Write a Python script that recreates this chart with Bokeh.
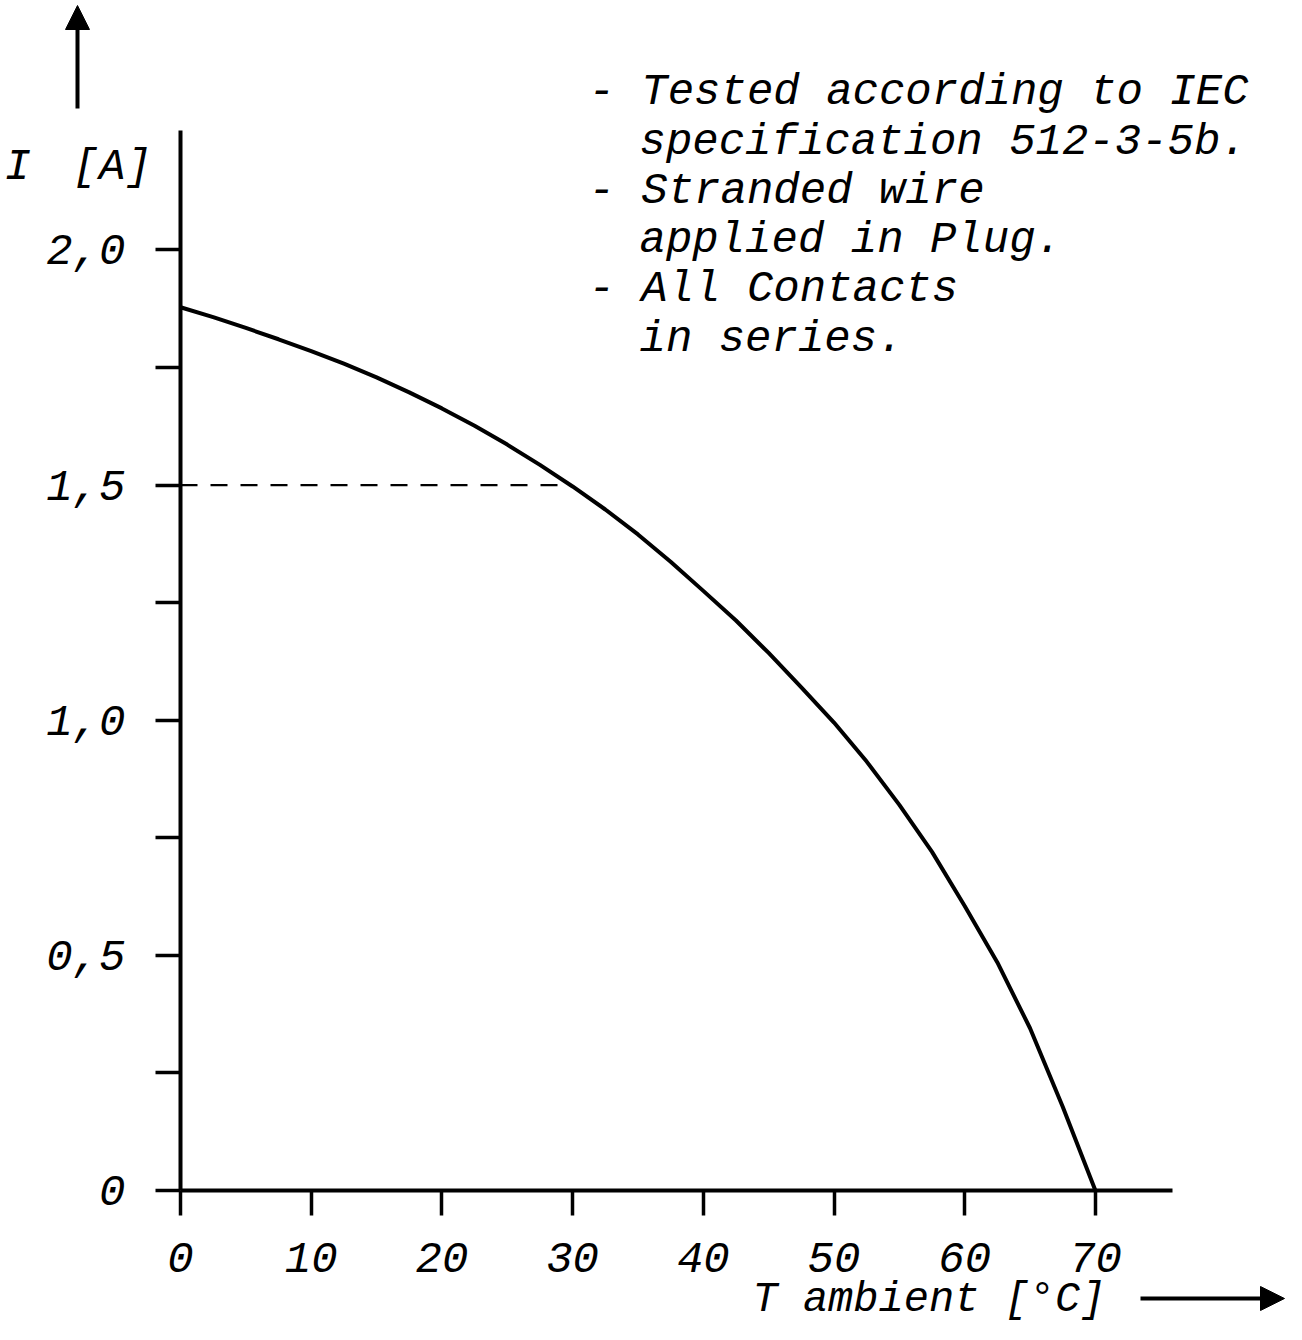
from bokeh.plotting import figure
from bokeh.models import Range1d, FixedTicker, Label, Arrow, NormalHead
from bokeh.embed import file_html
from bokeh.resources import INLINE

# ---- data ----
temperature = [0, 2.5, 5, 7.5, 10, 12.5, 15, 17.5, 20, 22.5, 25, 27.5, 30, 32.5, 35,
               37.5, 40, 42.5, 45, 47.5, 50, 52.5, 55, 57.5, 60, 62.5, 65, 67.5, 70]
current = [1.878, 1.857, 1.834, 1.810, 1.785, 1.758, 1.729, 1.697, 1.663, 1.626,
           1.586, 1.543, 1.497, 1.448, 1.395, 1.337, 1.275, 1.212, 1.143, 1.070,
           0.995, 0.912, 0.820, 0.720, 0.605, 0.485, 0.345, 0.178, 0.0]

x_ticks = [0, 10, 20, 30, 40, 50, 60, 70]
y_major = [0.0, 0.5, 1.0, 1.5, 2.0]
y_minor = [0.25, 0.75, 1.25, 1.75]
y_tick_labels = ["0", "0,5", "1,0", "1,5", "2,0"]

x_axis_end = 75.9
y_axis_end = 2.254

ref_current = 1.5
ref_temp_end = 28.9

note_first = ["- Tested according to IEC", "- Stranded wire", "- All Contacts"]
note_cont = ["specification 512-3-5b.", "applied in Plug.", "in series."]

y_title_symbol = "I"
y_title_unit = "[A]"
x_title = "T ambient [°C]"

FONT = "Liberation Mono"
FS = "44px"


# canvas-pixel -> data helpers (used for placing annotations and the frame)
def dx(px):
    return (px - 180) / 13.07


def dy(py):
    return (1190 - py) / 470.3


# ---- figure: frame covers the whole canvas, axes fixed at 0 ----
W, H = 1286, 1324
p = figure(width=W, height=H, output_backend="svg", toolbar_location=None,
           x_range=Range1d(dx(0), dx(W)), y_range=Range1d(dy(H), dy(0)),
           min_border=0)
p.outline_line_color = None
p.grid.visible = False
p.background_fill_color = "white"
p.border_fill_color = "white"

# x axis
xa = p.xaxis[0]
xa.fixed_location = 0
xa.bounds = (0, x_axis_end)
xa.ticker = FixedTicker(ticks=x_ticks, minor_ticks=[])
xa.axis_line_width = 4
xa.axis_line_color = "black"
xa.major_tick_out = 25
xa.major_tick_in = 0
xa.major_tick_line_width = 3.5
xa.major_tick_line_color = "black"
xa.minor_tick_line_color = None
xa.major_label_standoff = 27
xa.major_label_text_font = FONT
xa.major_label_text_font_style = "italic"
xa.major_label_text_font_size = FS
xa.major_label_text_color = "black"

# y axis
ya = p.yaxis[0]
ya.fixed_location = 0
ya.bounds = (0, y_axis_end)
ya.ticker = FixedTicker(ticks=y_major, minor_ticks=y_minor)
ya.axis_line_width = 4
ya.axis_line_color = "black"
ya.major_tick_out = 25
ya.major_tick_in = 0
ya.major_tick_line_width = 3.5
ya.major_tick_line_color = "black"
ya.minor_tick_out = 25
ya.minor_tick_in = 0
ya.minor_tick_line_width = 3.5
ya.minor_tick_line_color = "black"
ya.major_label_standoff = 30
ya.major_label_text_font = FONT
ya.major_label_text_font_style = "italic"
ya.major_label_text_font_size = FS
ya.major_label_text_color = "black"
ya.major_label_overrides = {float(v): s for v, s in zip(y_major, y_tick_labels)}

# curve and reference line
p.line(temperature, current, line_color="black", line_width=4)
p.line([0, ref_temp_end], [ref_current, ref_current], line_color="black",
       line_width=2.2, line_dash="17 13")


def add_text(x, y, text, size=FS):
    p.add_layout(Label(x=x, y=y, text=text, text_font=FONT, text_font_style="italic",
                       text_font_size=size, text_color="black", text_align="left",
                       text_baseline="alphabetic"))


# notes
baselines = [91, 141, 190, 239, 288, 338]
for i in range(3):
    add_text(dx(588), dy(baselines[2 * i]), note_first[i])
    add_text(dx(639), dy(baselines[2 * i + 1]), note_cont[i])

# axis titles
add_text(dx(4), dy(166), y_title_symbol)
add_text(dx(72), dy(166), y_title_unit)
add_text(dx(752), dy(1299), x_title, "42px")

# arrows
p.add_layout(Arrow(end=NormalHead(size=24, fill_color="black", line_color="black"),
                   x_start=dx(77), y_start=dy(108), x_end=dx(77), y_end=dy(5),
                   line_width=4, line_color="black"))
p.add_layout(Arrow(end=NormalHead(size=24, fill_color="black", line_color="black"),
                   x_start=dx(1140), y_start=dy(1298), x_end=dx(1284), y_end=dy(1298),
                   line_width=4, line_color="black"))

open("out.html", "w").write(file_html(p, INLINE))
